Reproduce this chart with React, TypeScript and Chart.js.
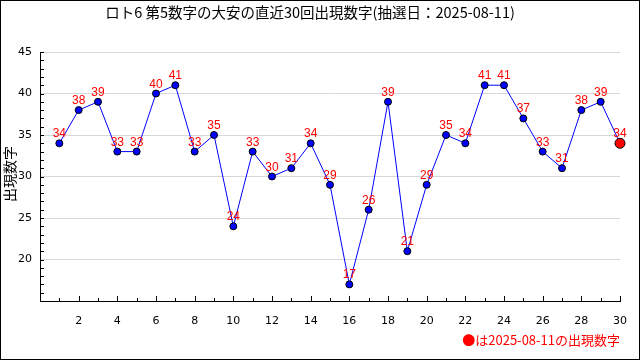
import React, { useEffect, useRef } from "react";
import { Chart, registerables } from "chart.js";
Chart.register(...registerables);

const drawIndex = [1, 2, 3, 4, 5, 6, 7, 8, 9, 10, 11, 12, 13, 14, 15, 16, 17, 18, 19, 20, 21, 22, 23, 24, 25, 26, 27, 28, 29, 30];
const values = [34, 38, 39, 33, 33, 40, 41, 33, 35, 24, 33, 30, 31, 34, 29, 17, 26, 39, 21, 29, 35, 34, 41, 41, 37, 33, 31, 38, 39, 34];
const xTickLabels = [2, 4, 6, 8, 10, 12, 14, 16, 18, 20, 22, 24, 26, 28, 30];
const yTickLabels = [20, 25, 30, 35, 40, 45];
const titleText = "ロト6 第5数字の大安の直近30回出現数字(抽選日：2025-08-11)";
const yAxisTitle = "出現数字";
const legendText = "●は2025-08-11の出現数字";

const JP = '"Noto Sans CJK JP", "DejaVu Sans", sans-serif';

export default function App() {
  const ref = useRef<HTMLCanvasElement | null>(null);
  useEffect(() => {
    document.body.style.margin = "0";
    const canvas = ref.current!;
    const last = values.length - 1;
    const decor = {
      id: "decor",
      beforeDatasetsDraw(chart: any) {
        const ctx = chart.ctx;
        const xs = chart.scales.x;
        const ys = chart.scales.y;
        const area = chart.chartArea;
        ctx.save();
        ctx.strokeStyle = "#000";
        ctx.lineWidth = 1;
        ctx.beginPath();
        for (let i = 1; i <= 30; i++) {
          const px = Math.round(xs.getPixelForValue(i)) + 0.5;
          const len = i % 2 === 0 ? 5 : 3;
          ctx.moveTo(px, area.bottom);
          ctx.lineTo(px, area.bottom - len);
        }
        for (let v = 16; v <= 45; v++) {
          const py = Math.round(ys.getPixelForValue(v)) + 0.5;
          ctx.moveTo(area.left, py);
          ctx.lineTo(area.left + 4, py);
        }
        ctx.stroke();
        ctx.restore();
      },
      afterDraw(chart: any) {
        const ctx = chart.ctx;
        const xs = chart.scales.x;
        const ys = chart.scales.y;
        ctx.save();
        // frame
        ctx.strokeStyle = "#000";
        ctx.lineWidth = 1;
        ctx.strokeRect(0.5, 0.5, 639, 359);
        // title
        ctx.fillStyle = "#000";
        ctx.font = `14.5px ${JP}`;
        ctx.textAlign = "center";
        ctx.textBaseline = "middle";
        ctx.fillText(titleText, 310, 12);
        // y title
        ctx.save();
        ctx.translate(10, 174);
        ctx.rotate(-Math.PI / 2);
        ctx.font = `14px ${JP}`;
        ctx.fillText(yAxisTitle, 0, 0);
        ctx.restore();
        // data labels
        ctx.fillStyle = "#ff0000";
        ctx.font = '12px "Liberation Sans", Arial, sans-serif';
        ctx.textAlign = "center";
        ctx.textBaseline = "alphabetic";
        values.forEach((v, i) => {
          const px = xs.getPixelForValue(drawIndex[i]);
          const py = ys.getPixelForValue(v);
          ctx.fillText(String(v), px, py - 6);
        });
        // legend
        ctx.font = `13px ${JP}`;
        ctx.textAlign = "right";
        ctx.textBaseline = "middle";
        ctx.fillText(legendText, 620, 340);
        ctx.restore();
      },
    };
    const chart = new Chart(canvas, {
      type: "line",
      data: {
        datasets: [
          {
            data: values.map((v, i) => ({ x: drawIndex[i], y: v })),
            borderColor: "#0000ff",
            borderWidth: 1,
            pointBackgroundColor: values.map((_, i) => (i === last ? "#ff0000" : "#0000ff")),
            pointBorderColor: "#000",
            pointBorderWidth: 1,
            pointRadius: values.map((_, i) => (i === last ? 5 : 3.5)),
            tension: 0,
            clip: false as any,
          },
        ],
      },
      options: {
        animation: false,
        responsive: false,
        layout: { padding: { top: 52, right: 20, left: 0, bottom: 0 } },
        plugins: { legend: { display: false }, tooltip: { enabled: false }, title: { display: false } },
        scales: {
          x: {
            type: "linear",
            min: 0,
            max: 30,
            afterFit: (s: any) => {
              s.height = 59;
            },
            ticks: {
              stepSize: 1,
              autoSkip: false,
              maxRotation: 0,
              padding: 6,
              color: "#000",
              font: { family: "DejaVu Sans", size: 11 },
              callback: (v: any) => (xTickLabels.includes(v) ? String(v) : ""),
            },
            grid: { display: false },
            border: { display: true, color: "#000", width: 1 },
          },
          y: {
            type: "linear",
            min: 15,
            max: 45,
            afterFit: (s: any) => {
              s.width = 40;
            },
            ticks: {
              stepSize: 1,
              autoSkip: false,
              padding: 8,
              color: "#000",
              font: { family: "DejaVu Sans", size: 11 },
              callback: (v: any) => (yTickLabels.includes(v) ? String(v) : ""),
            },
            grid: {
              drawTicks: false,
              color: (c: any) =>
                c.tick && c.tick.value % 5 === 0 && c.tick.value !== 15 ? "#d8d8d8" : "rgba(0,0,0,0)",
            },
            border: { display: true, color: "#000", width: 1 },
          },
        },
      },
      plugins: [decor],
    });
    return () => chart.destroy();
  }, []);
  return <canvas ref={ref} width={640} height={360} style={{ display: "block", width: 640, height: 360 }} />;
}
